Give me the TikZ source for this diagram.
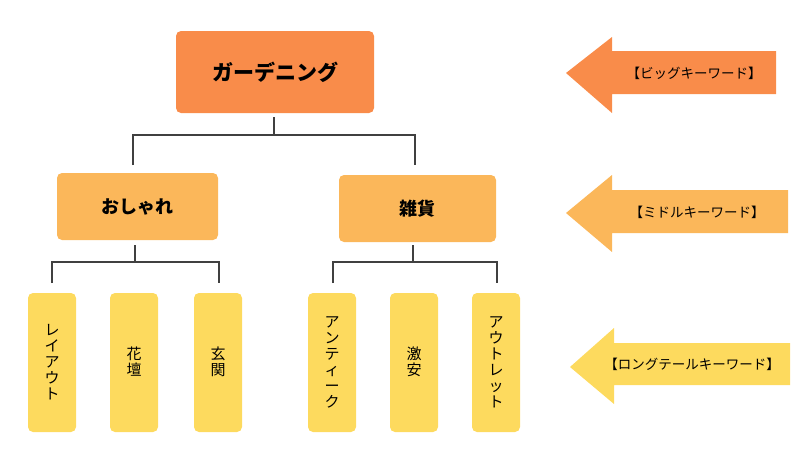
\documentclass[tikz,border=0pt]{standalone}
\usepackage{fontspec}
\setmainfont{Noto Sans CJK JP}
\usetikzlibrary{positioning}
\definecolor{bigC}{HTML}{F98C4A}
\definecolor{midC}{HTML}{FBB75A}
\definecolor{tailC}{HTML}{FDDA5E}
\tikzset{%
  kw/.style={rounded corners=5pt, draw=none, inner sep=0pt},
  vtext/.style={align=center, font=\fontsize{15}{16}\selectfont},
  link/.style={draw=black!75, line width=1.1pt},
  lbl/.style={font=\fontsize{13.5}{14}\selectfont, anchor=center}
}
\begin{document}
\begin{tikzpicture}[x=1pt,y=-1pt]
\useasboundingbox (0,0) rectangle (800,450);
% big keyword
\fill[bigC, kw] (176,31) rectangle (374,113);
\node[font=\bfseries\fontsize{21}{22}\selectfont] (garden) at (275,72) {ガーデニング};
% middle keywords
\fill[midC, kw] (57,173) rectangle (218,240);
\node[font=\bfseries\fontsize{18}{20}\selectfont] (oshare) at (137,207) {おしゃれ};
\fill[midC, kw] (339,175) rectangle (496,242);
\node[font=\bfseries\fontsize{18}{20}\selectfont] (zakka) at (417,209) {雑貨};
% long tail keywords
\foreach \x/\name/\txt in {52/lay/{レ\\イ\\ア\\ウ\\ト}, 134/kadan/{花\\壇}, 218/genkan/{玄\\関},
  332/ant/{ア\\ン\\テ\\ィ\\ー\\ク}, 414/gekiyasu/{激\\安}, 496/outlet/{ア\\ウ\\ト\\レ\\ッ\\ト}}{
  \fill[tailC, kw] (\x-24,293) rectangle (\x+24,432);
  \node[vtext] (\name) at (\x,362) {\txt};
}
% connectors
\coordinate (c0) at (274,135);
\draw[link] (274,117) -- (c0);
\draw[link] (133,165) |- (c0) -| (415,165);
\draw[link] (135,245) -- (135,262);
\draw[link] (52,283) |- (135,262) -| (219,283);
\draw[link] (413,245) -- (413,262);
\draw[link] (333,283) |- (413,262) -| (497,283);
% arrows
\fill[bigC] (566,73) -- (612,37) -- (612,51) -- (776,51) -- (776,94) -- (612,94) -- (612,113) -- cycle;
\node[lbl] (big) at (694,73) {【ビッグキーワード】};
\fill[midC] (566,213) -- (612,175) -- (612,190) -- (788,190) -- (788,233) -- (612,233) -- (612,252) -- cycle;
\node[lbl] (mid) at (697,212) {【ミドルキーワード】};
\fill[tailC] (570,367) -- (614,328) -- (614,343) -- (790,343) -- (790,385) -- (614,385) -- (614,404) -- cycle;
\node[lbl] (tail) at (692,364) {【ロングテールキーワード】};
\end{tikzpicture}
\end{document}
